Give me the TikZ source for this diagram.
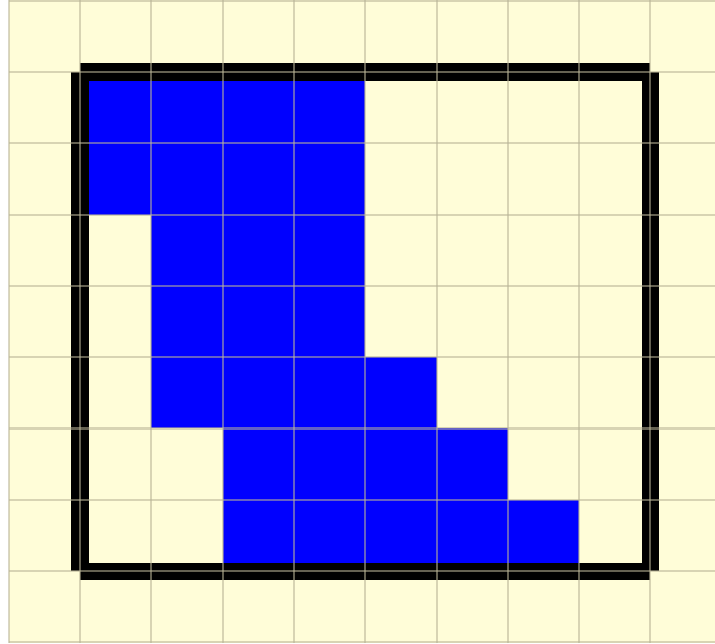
\documentclass[tikz,border=0pt]{standalone}
\usepackage{tikz}
\definecolor{paper}{RGB}{255,253,216}
\definecolor{gridline}{RGB}{185,180,150}
\begin{document}
\begin{tikzpicture}[x=1cm,y=1cm]
\useasboundingbox (-1.122,-1.010) rectangle (8.906,8.010);
\fill[paper] (-0.998,-1.010) rectangle (8.906,8.010);
% blue cells, one row at a time
\foreach \xa/\xb/\row in {0/4/6,0/4/5,1/4/4,1/4/3,1/5/2,2/6/1,2/7/0}{\fill[blue] (\xa,\row) rectangle (\xb,\row+1);}
% frame
\draw[line width=6.8pt] (0,7)--(8,7); \draw[line width=6.8pt] (8,7)--(8,0);
\draw[line width=6.8pt] (8,0)--(0,0); \draw[line width=6.8pt] (0,0)--(0,7);
% grid on top
\foreach \x in {-1,...,8}{\draw[gridline,opacity=0.55,line width=0.8pt] (\x,-1.010)--(\x,8.010);}
\foreach \y in {-1,...,8}{\draw[gridline,opacity=0.55,line width=0.8pt] (-0.998,\y)--(8.906,\y);}
\end{tikzpicture}
\end{document}
